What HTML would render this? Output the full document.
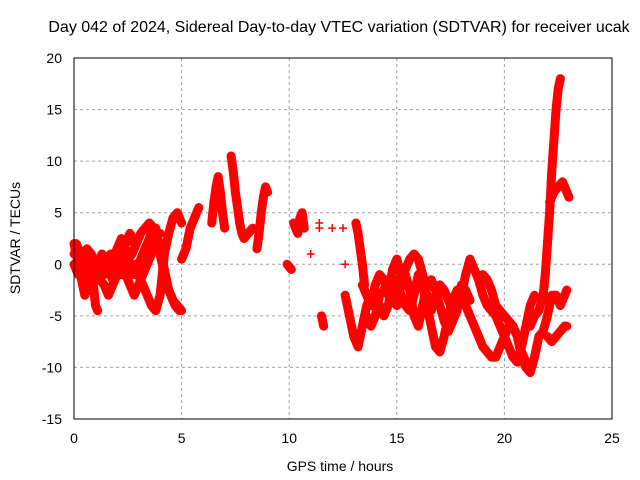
<!DOCTYPE html>
<html><head><meta charset="utf-8"><style>
body{margin:0;background:#fff;}
svg{display:block;font-family:"Liberation Sans",sans-serif;}
</style></head><body>
<svg id="chart" width="640" height="480">
<text x="339" y="32" font-size="16" text-anchor="middle">Day 042 of 2024, Sidereal Day-to-day VTEC variation (SDTVAR) for receiver ucak</text>
<text x="340" y="471" font-size="14" text-anchor="middle">GPS time / hours</text>
<text transform="translate(20,238) rotate(-90)" font-size="14" text-anchor="middle">SDTVAR / TECUs</text>
<g id="grid"></g>
<g id="ticks"></g>
<g id="marks"></g>
<rect x="74" y="58" width="538" height="361" fill="none" stroke="#000" stroke-width="1"/>
</svg>
<script>
const xTicks=[0,5,10,15,20,25];
const yTicks=[-15,-10,-5,0,5,10,15,20];
const track1=[[0,2],[0.1,1],[0.2,0],[0.3,-1],[0.4,-2],[0.5,-3],[0.6,-2.5],[0.7,-1],[0.8,0],[0.9,-2],[1.0,-4],[1.1,-4.5]];
const track2=[[0,0],[0.2,-1],[0.4,0],[0.6,1.5],[0.8,1],[1.0,0],[1.2,-1],[1.4,0],[1.6,-0.5],[1.8,-1.5],[2.0,0],[2.2,1],[2.4,2],[2.6,3],[2.8,2]];
const track3=[[0.1,2],[0.3,1],[0.5,0],[0.7,-1.5],[0.9,-1],[1.1,0],[1.3,1],[1.5,0.5],[1.7,1],[1.9,-0.5],[2.1,0],[2.3,-1],[2.5,0.5],[2.7,1],[2.9,2],[3.1,3],[3.3,3.5],[3.5,4],[3.7,3.5],[3.9,2],[4.1,0],[4.3,-2],[4.5,-3],[4.7,-4],[4.9,-4.5]];
const track4=[[2.8,0],[3.0,-1],[3.2,-2],[3.4,-3],[3.6,-4],[3.8,-4.5],[4.0,-3],[4.1,-1],[4.2,1],[4.4,3],[4.6,4.5],[4.8,5],[5.0,4]];
const track5=[[1.2,-1.5],[1.4,-2],[1.6,-3],[1.8,-2],[2.0,-1],[2.4,-1],[2.6,-2],[2.8,-3],[3.0,-2],[3.2,-1],[3.4,0],[3.6,1],[3.8,2.5],[4.0,3]];
const track5b=[[0,1],[0.2,1.5],[0.4,1],[0.6,0],[0.8,-0.5],[1.0,0.5],[1.2,0],[1.4,-1],[1.6,0],[1.8,0.5],[2.0,1.5],[2.2,2.5],[2.4,1.5],[2.6,0],[2.8,-1],[3.0,0],[3.2,1],[3.4,2],[3.6,3],[3.8,3.5],[4.0,1.5],[4.2,-0.5],[4.4,-2.5],[4.6,-3.5],[4.8,-4],[5.0,-4.5]];
const track6=[[5.0,0.5],[5.2,1.5],[5.4,3.5],[5.6,4.5],[5.8,5.5]];
const track7=[[6.4,4],[6.5,6],[6.6,7.5],[6.7,8.5],[6.8,7],[6.9,5],[7.0,3.5]];
const track8=[[7.3,10.5],[7.4,9],[7.5,7],[7.6,5.5],[7.7,4],[7.8,3],[7.9,2.5],[8.1,3],[8.3,3.5]];
const track9=[[8.5,1.5],[8.6,3],[8.7,5],[8.8,6.5],[8.9,7.5],[9.0,7]];
const track10=[[9.9,0],[10.1,-0.5]];
const track10b=[[10.2,4],[10.4,3],[10.5,4.5],[10.6,5],[10.7,3.5]];
const pts11=[[11.0,1],[11.4,3.5],[11.4,4],[12.0,3.5],[12.5,3.5],[12.6,0]];
const track12=[[11.5,-5],[11.6,-6]];
const track13=[[13.1,4],[13.2,3],[13.3,1.5],[13.4,0],[13.5,-2]];
const trackA=[[12.6,-3],[12.8,-5],[13.0,-7],[13.2,-8],[13.4,-6],[13.6,-4],[13.8,-3],[14.0,-3.5],[14.2,-4],[14.4,-5],[14.6,-4],[14.8,-2],[15.0,-1.5],[15.2,-3],[15.4,-4],[15.6,-4.5],[15.8,-3],[16.0,-1],[16.2,-2],[16.4,-4],[16.6,-6],[16.8,-8],[17.0,-8.5],[17.2,-7],[17.4,-5],[17.6,-3.5],[17.8,-2.5],[18.0,-3],[18.2,-4],[18.4,-5],[18.6,-6],[18.8,-7],[19.0,-8],[19.2,-8.5],[19.4,-9],[19.6,-9],[19.8,-8],[20.0,-7],[20.2,-6],[20.4,-6],[20.6,-7],[20.8,-9],[21.0,-10],[21.2,-10.5],[21.4,-9],[21.6,-7]];
const trackB=[[13.4,-2],[13.6,-3],[13.8,-4],[14.0,-2],[14.2,-1],[14.4,-1.5],[14.6,-3],[14.8,-0.5],[15.0,0.5],[15.2,-1],[15.4,-0.5],[15.6,0.5],[15.8,1],[16.0,0.5],[16.2,-1],[16.4,-3],[16.6,-4.5],[16.8,-3],[17.0,-2],[17.2,-2.5],[17.4,-3.5],[17.6,-4.5],[17.8,-4],[18.0,-3],[18.2,-1],[18.4,0.5],[18.6,-0.5],[18.8,-1.5],[19.0,-3],[19.2,-4],[19.4,-4.5],[19.6,-5],[19.8,-6],[20.0,-7],[20.2,-8],[20.4,-9],[20.6,-9.5],[20.8,-8],[21.0,-6],[21.2,-4],[21.4,-3]];
const trackB2=[[13.6,-5],[13.8,-6],[14.0,-5],[14.2,-3],[14.4,-2.5],[14.6,-1.5],[14.8,-3],[15.0,-4],[15.2,-2],[15.4,-1],[15.6,-2.5],[15.8,-5],[16.0,-6],[16.2,-4],[16.4,-2],[16.6,-1.5],[16.8,-2.5],[17.0,-4],[17.2,-5.5],[17.4,-6.5],[17.6,-5.5],[17.8,-4.5],[18.0,-2],[18.2,-2.5],[18.4,-3.5]];
const trackC=[[19.0,-1],[19.2,-1.5],[19.4,-2.5],[19.6,-4],[19.8,-4.5],[20.0,-5],[20.2,-5.5],[20.4,-6],[20.6,-7],[20.8,-8.5],[21.0,-9.5]];
const trackD=[[21.2,-6],[21.4,-5],[21.6,-4.5],[21.8,-3],[21.9,-1],[22.0,2],[22.1,5],[22.2,9],[22.3,12],[22.4,15],[22.5,17],[22.6,18]];
const trackE=[[21.6,-7],[21.8,-6.5],[22.0,-5],[22.2,-3],[22.4,-3],[22.6,-4],[22.8,-3],[22.9,-2.5]];
const trackF=[[22.0,-7],[22.2,-7.5],[22.4,-7],[22.6,-6.5],[22.8,-6],[22.9,-6]];
const trackG=[[22.1,6],[22.3,7],[22.5,7.5],[22.7,8],[22.9,7],[23.0,6.5]];
const tracks=[track1,track2,track3,track4,track5,track5b,track6,track7,track8,track9,track10,track10b,track12,track13,trackA,trackB,trackB2,trackC,trackD,trackE,trackF,trackG];

const X0=74,X1=612,Y0=419,Y1=58;
function sx(t){return X0+(t-0)/25*(X1-X0);}
function sy(v){return Y0-(v+15)/35*(Y0-Y1);}
const NS='http://www.w3.org/2000/svg';
function mk(tag,attrs,parent){const e=document.createElementNS(NS,tag);for(const k in attrs)e.setAttribute(k,attrs[k]);parent.appendChild(e);return e;}
const grid=document.getElementById('grid'),ticks=document.getElementById('ticks'),marks=document.getElementById('marks');
xTicks.forEach(t=>{
  const x=sx(t);
  if(t>0&&t<25){const g=mk('line',{x1:x,x2:x,y1:Y1,y2:Y0,stroke:'#a0a0a0','stroke-dasharray':'3,3'},grid);
  
  }
  const l=mk('text',{x:x,y:443,'font-size':14,'text-anchor':'middle'},ticks);l.textContent=t;
  
  
});
yTicks.forEach(v=>{
  const y=sy(v);
  if(v>-15&&v<20){const g=mk('line',{x1:X0,x2:X1,y1:y,y2:y,stroke:'#a0a0a0','stroke-dasharray':'3,3'},grid);
  
  }
  const l=mk('text',{x:62,y:y+5,'font-size':14,'text-anchor':'end'},ticks);l.textContent=v;
  
  
});
function plus(x,y){
  const m=mk('path',{d:`M${x-4},${y}H${x+4}M${x},${y-4}V${y+4}`,stroke:'#ff0000','stroke-width':1.5},marks);
  
  
}
tracks.forEach(tr=>{
  const pl=mk('polyline',{points:tr.map(p=>sx(p[0])+','+sy(p[1])).join(' '),fill:'none',stroke:'#ff0000','stroke-width':9,'stroke-linejoin':'round','stroke-linecap':'round'},marks);
  
  
  tr.forEach(p=>plus(sx(p[0]),sy(p[1])));
});
pts11.forEach(p=>plus(sx(p[0]),sy(p[1])));
</script>
</body></html>
